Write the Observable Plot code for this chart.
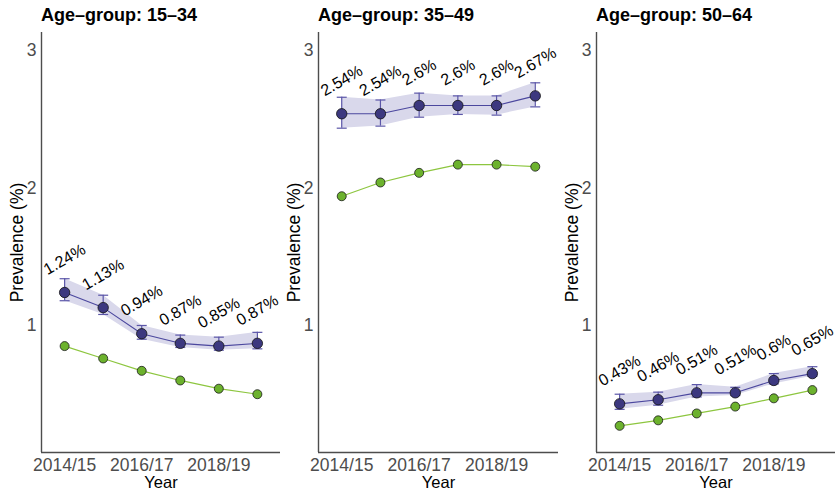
<!DOCTYPE html>
<html>
<head>
<meta charset="utf-8">
<script src="https://cdn.jsdelivr.net/npm/d3@7"></script>
<script src="https://cdn.jsdelivr.net/npm/@observablehq/plot@0.6"></script>
<style>
  body { margin: 0; background: #fff; font-family: "Liberation Sans", Arial, sans-serif; }
  #chart { position: relative; width: 835px; height: 488px; overflow: hidden; }
  .panel { position: absolute; top: 0; height: 488px; }
  .panel .title { position: absolute; top: 5px; font-weight: bold; font-size: 18px; color: #000; white-space: nowrap; }
  .panel svg { position: absolute; top: 32px; left: 0; overflow: visible; }
</style>
</head>
<body>
<div id="chart"></div>
<script>
// Survey years (x axis) and the labelled ticks
const years = ["2014/15", "2015/16", "2016/17", "2017/18", "2018/19", "2019/20"];
const xTickLabels = ["2014/15", "2016/17", "2018/19"];
const yTicks = [1, 2, 3];

const ageGroups = ["15–34", "35–49", "50–64"];

// Prevalence (%) with 95% interval, by age group
const prev1534 = [1.24, 1.13, 0.94, 0.87, 0.85, 0.87];
const lo1534   = [1.18, 1.08, 0.90, 0.84, 0.82, 0.83];
const hi1534   = [1.34, 1.22, 1.00, 0.93, 0.915, 0.95];

const prev3549 = [2.54, 2.54, 2.6, 2.6, 2.6, 2.67];
const lo3549   = [2.435, 2.45, 2.515, 2.535, 2.53, 2.59];
const hi3549   = [2.66, 2.64, 2.69, 2.67, 2.67, 2.765];

const prev5064 = [0.43, 0.46, 0.51, 0.51, 0.6, 0.65];
const lo5064   = [0.39, 0.42, 0.48, 0.49, 0.575, 0.63];
const hi5064   = [0.50, 0.515, 0.57, 0.55, 0.65, 0.70];

// Comparison series (green)
const comp1534 = [0.85, 0.76, 0.67, 0.60, 0.54, 0.50];
const comp3549 = [1.94, 2.04, 2.11, 2.17, 2.17, 2.155];
const comp5064 = [0.27, 0.31, 0.36, 0.41, 0.47, 0.53];

const panels = [
  { group: ageGroups[0], prev: prev1534, lo: lo1534, hi: hi1534, comp: comp1534 },
  { group: ageGroups[1], prev: prev3549, lo: lo3549, hi: hi3549, comp: comp3549 },
  { group: ageGroups[2], prev: prev5064, lo: lo5064, hi: hi5064, comp: comp5064 }
];

// Layout
const panelLeft = [0, 278, 556];
const panelWidth = [280, 280, 279];
const panelMarginLeft = [41, 40, 40];
const xDomain = [-0.6, years.length - 1 + 0.6];
const yDomain = [0.076, 3.131];
const font = "'Liberation Sans', Arial, sans-serif";

const purple = "#4b479e";
const purpleBar = "#5b56a8";
const band = "#d9d8eb";
const green = "#8dc63f";

// Horizontal cap used at the ends of the error bars
const capSymbol = {
  draw(context, size) {
    const r = Math.sqrt(size / Math.PI);
    context.moveTo(-r, 0);
    context.lineTo(r, 0);
  }
};

const chart = document.getElementById("chart");

panels.forEach((p, k) => {
  const rows = years.map((year, i) => ({
    i, year, prev: p.prev[i], lo: p.lo[i], hi: p.hi[i], comp: p.comp[i]
  }));

  const div = document.createElement("div");
  div.className = "panel";
  div.style.left = panelLeft[k] + "px";
  div.style.width = panelWidth[k] + "px";

  const title = document.createElement("div");
  title.className = "title";
  title.style.left = panelMarginLeft[k] + "px";
  title.textContent = `Age–group: ${p.group}`;
  div.appendChild(title);

  const svg = Plot.plot({
    width: panelWidth[k],
    height: 456,
    marginLeft: panelMarginLeft[k],
    marginRight: 0,
    marginTop: 0,
    marginBottom: 36,
    style: { fontFamily: font, fontSize: "17.5px", color: "#4d4d4d", background: "transparent", overflow: "visible" },
    x: { domain: xDomain },
    y: { domain: yDomain },
    marks: [
      Plot.areaY(rows, { x: "i", y1: "lo", y2: "hi", fill: band }),
      Plot.line(rows, { x: "i", y: "comp", stroke: green, strokeWidth: 1.2 }),
      Plot.line(rows, { x: "i", y: "prev", stroke: purple, strokeWidth: 1.1 }),
      Plot.ruleX(rows, { x: "i", y1: "lo", y2: "hi", stroke: purpleBar, strokeWidth: 1.2 }),
      Plot.dot(rows, { x: "i", y: "lo", symbol: capSymbol, r: 5, stroke: purpleBar, strokeWidth: 1.2, fill: "none" }),
      Plot.dot(rows, { x: "i", y: "hi", symbol: capSymbol, r: 5, stroke: purpleBar, strokeWidth: 1.2, fill: "none" }),
      Plot.dot(rows, { x: "i", y: "comp", r: 4.5, fill: "#6cb22d", stroke: "#1a1a1a", strokeWidth: 0.8 }),
      Plot.dot(rows, { x: "i", y: "prev", r: 5.2, fill: "#3c387f", stroke: "#111", strokeWidth: 0.8 }),
      Plot.text(rows, { x: "i", y: "prev", text: d => `${d.prev}%`, dy: -33, rotate: -30, fontSize: 16, fill: "#000" }),
      Plot.axisY({ ticks: yTicks, tickFormat: d => String(d), tickSize: 0, tickPadding: 5, label: null, fontSize: 17.5 }),
      Plot.axisX({ ticks: xTickLabels.map(t => years.indexOf(t)), tickFormat: i => years[i], tickSize: 0, tickPadding: 6, label: null, fontSize: 17.5 }),
      Plot.ruleX([xDomain[0]], { stroke: "#4d4d4d", strokeWidth: 1.4 }),
      Plot.ruleY([yDomain[0]], { stroke: "#4d4d4d", strokeWidth: 1.4 }),
      Plot.text(["Prevalence (%)"], { frameAnchor: "left", textAnchor: "middle", lineAnchor: "middle", dx: -24, rotate: -90, fill: "#000", fontSize: 17.5 }),
      Plot.text(["Year"], { frameAnchor: "bottom", lineAnchor: "middle", dy: 30, fill: "#000", fontSize: 16.5 })
    ]
  });
  div.appendChild(svg);
  chart.appendChild(div);
});
</script>
</body>
</html>
